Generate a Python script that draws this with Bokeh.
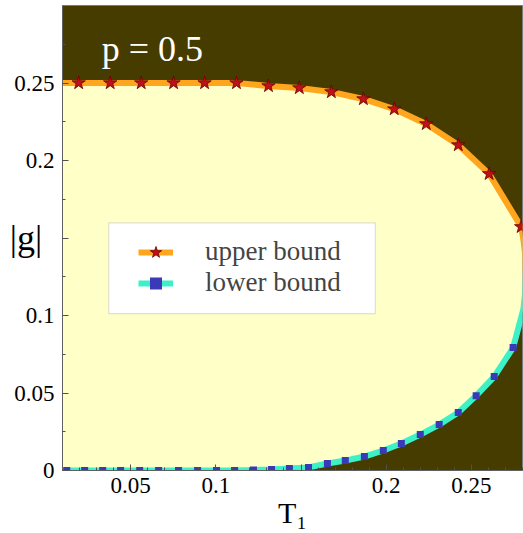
from bokeh.plotting import figure
from bokeh.models import Range1d, FixedTicker, Label, Legend, LegendItem, BoxAnnotation
from bokeh.embed import file_html
from bokeh.resources import INLINE

# ---- data ----
star_T = [0.0195, 0.0380, 0.0562, 0.0752, 0.0934, 0.1121, 0.1309, 0.1490,
          0.1678, 0.1866, 0.2047, 0.2235, 0.2423, 0.2604, 0.2792]
star_g = [0.2500, 0.2500, 0.2500, 0.2500, 0.2500, 0.2500, 0.2481, 0.2468,
          0.2442, 0.2397, 0.2332, 0.2236, 0.2100, 0.1914, 0.1572]

sq_T = [0.0125, 0.0230, 0.0336, 0.0441, 0.0553, 0.0664, 0.0781, 0.0893,
        0.1004, 0.1110, 0.1221, 0.1327, 0.1432, 0.1544, 0.1655, 0.1760,
        0.1872, 0.1983, 0.2089, 0.2200, 0.2311, 0.2423, 0.2528, 0.2634, 0.2745]
sq_g = [0.0000, 0.0000, 0.0000, 0.0000, 0.0000, 0.0000, 0.0000, 0.0000,
        0.0000, 0.0000, 0.0003, 0.0006, 0.0013, 0.0020, 0.0045, 0.0064,
        0.0090, 0.0129, 0.0174, 0.0232, 0.0296, 0.0374, 0.0483, 0.0606, 0.0793]

# curve points beyond the markers (left edge and the closing tip past the frame)
upper_head_T = [0.0100]
upper_head_g = [0.2500]
upper_tail_T = [0.2805, 0.2815, 0.2820]
upper_tail_g = [0.1490, 0.1400, 0.1270]
lower_head_T = [0.0100]
lower_head_g = [0.0000]
lower_tail_T = [0.2805, 0.2815, 0.2820]
lower_tail_g = [0.1040, 0.1140, 0.1270]

x_ticks = [0.05, 0.10, 0.15, 0.20, 0.25]
x_tick_labels = ["0.05", "0.1", "", "0.2", "0.25"]
x_minor = [0.01 * i for i in range(1, 29)]
y_ticks = [0.0, 0.05, 0.10, 0.15, 0.20, 0.25]
y_tick_labels = ["0", "0.05", "0.1", "", "0.2", "0.25"]
y_minor = [0.025 * i for i in range(0, 13)]

series_labels = ["upper bound", "lower bound"]
panel_title = "p = 0.5"
x_title = "T\u2081"
y_title = "|g|"

# ---- build ----
upper_T = upper_head_T + star_T + upper_tail_T
upper_g = upper_head_g + star_g + upper_tail_g
lower_T = lower_head_T + sq_T + lower_tail_T
lower_g = lower_head_g + sq_g + lower_tail_g

SERIF = "Liberation Serif"

p = figure(width=523, height=533, output_backend="svg", toolbar_location=None,
           x_range=Range1d(0.01, 0.28), y_range=Range1d(0.0, 0.3),
           min_border_left=62, min_border_right=1, min_border_top=5, min_border_bottom=63)
p.background_fill_color = "#463C00"
p.border_fill_color = "white"
p.outline_line_color = "#7a7a7a"
p.outline_line_width = 1
p.grid.visible = False

# yellow region between the bounds
p.patch(upper_T + lower_T[::-1], upper_g + lower_g[::-1],
        fill_color="#FFFFC8", line_color=None)

up_line = p.line(upper_T, upper_g, line_color="#FFA51E", line_width=6)
lo_line = p.line(lower_T, lower_g, line_color="#3CF0C8", line_width=6)
stars = p.scatter(star_T, star_g, marker="star", size=14,
                  fill_color="#C0101A", line_color="#6a0000", line_width=0.8)
squares = p.scatter(sq_T, sq_g, marker="square", size=7,
                    fill_color="#3A3AB8", line_color=None)

for ax in (p.xaxis[0], p.yaxis[0]):
    ax.major_tick_in = 6
    ax.major_tick_out = 0
    ax.minor_tick_in = 3
    ax.minor_tick_out = 0
    ax.axis_line_color = "#606060"
    ax.major_tick_line_color = "#505050"
    ax.minor_tick_line_color = "#505050"
    ax.major_label_text_font = SERIF
    ax.major_label_text_font_size = "23px"
    ax.major_label_text_color = "black"
    ax.major_label_standoff = 8
    ax.axis_label_text_font = SERIF
    ax.axis_label_text_font_style = "normal"
    ax.axis_label_text_color = "black"

p.xaxis[0].ticker = FixedTicker(ticks=x_ticks, minor_ticks=x_minor)
p.xaxis[0].major_label_overrides = dict(zip(x_ticks, x_tick_labels))
p.xaxis[0].major_label_standoff = 7
p.yaxis[0].ticker = FixedTicker(ticks=y_ticks, minor_ticks=y_minor)
p.yaxis[0].major_label_overrides = dict(zip(y_ticks, y_tick_labels))

p.xaxis[0].axis_label = x_title
p.xaxis[0].axis_label_text_font_size = "30px"
p.xaxis[0].axis_label_standoff = 0

p.yaxis[0].axis_label = y_title
p.yaxis[0].axis_label_text_font_size = "36px"
p.yaxis[0].axis_label_orientation = "horizontal"
p.yaxis[0].axis_label_standoff = -31

# legend box
p.add_layout(BoxAnnotation(left=0.0371, right=0.1936, bottom=0.1012, top=0.1598,
                           fill_color="white", fill_alpha=1.0,
                           line_color="#9a9a9a", line_width=1.2))
legend = Legend(items=[LegendItem(label=series_labels[0], renderers=[up_line, stars]),
                       LegendItem(label=series_labels[1], renderers=[lo_line, squares])],
                location=(66, 162), padding=10, spacing=0,
                glyph_width=35, glyph_height=30, label_height=30, label_standoff=32,
                label_text_font=SERIF, label_text_font_size="27px",
                background_fill_alpha=0.0, border_line_alpha=0.0)
p.add_layout(legend, "center")

# panel text
p.add_layout(Label(x=0.033, y=0.272, text=panel_title, text_color="white",
                   text_font=SERIF, text_font_size="36px", text_baseline="alphabetic"))

open("out.html", "w").write(file_html(p, INLINE))
